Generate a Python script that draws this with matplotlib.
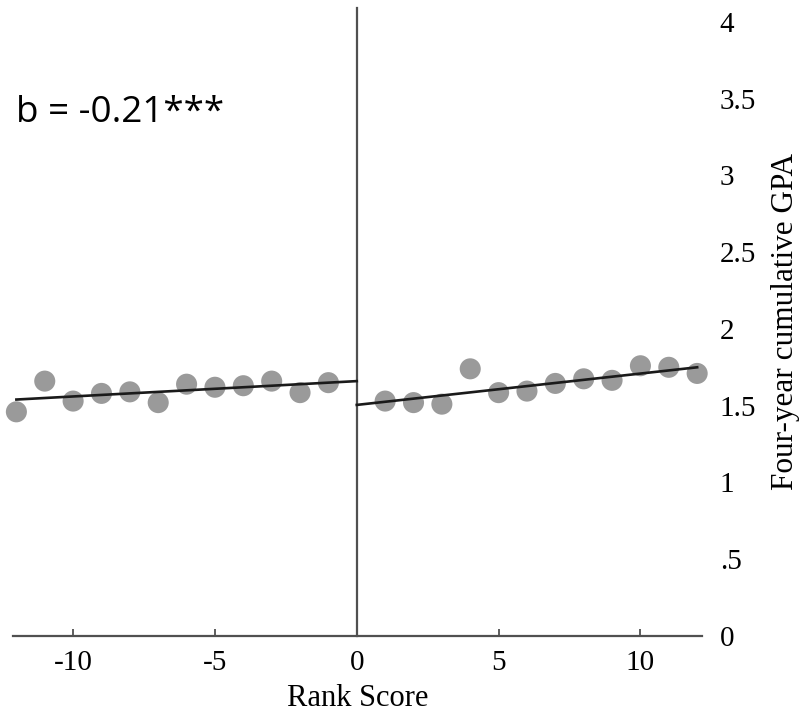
import matplotlib
matplotlib.use('Agg')
import matplotlib.pyplot as plt

# binned means of GPA by rank score, either side of the cutoff
rank_left = [-12, -11, -10, -9, -8, -7, -6, -5, -4, -3, -2, -1]
gpa_left = [1.46, 1.66, 1.53, 1.58, 1.59, 1.52, 1.64, 1.62, 1.63, 1.66, 1.585, 1.65]
rank_right = [1, 2, 3, 4, 5, 6, 7, 8, 9, 10, 11, 12]
gpa_right = [1.53, 1.52, 1.51, 1.74, 1.585, 1.595, 1.645, 1.675, 1.665, 1.76, 1.75, 1.71]

# fitted lines (endpoints)
fit_left_x = [-12, 0]
fit_left_y = [1.54, 1.66]
fit_right_x = [0, 12]
fit_right_y = [1.505, 1.75]

xticks = [-10, -5, 0, 5, 10]
yticks = [0, 0.5, 1, 1.5, 2, 2.5, 3, 3.5, 4]
yticklabels = ['0', '.5', '1', '1.5', '2', '2.5', '3', '3.5', '4']

serif = ['Liberation Serif', 'DejaVu Serif']

fig = plt.figure(figsize=(8.08, 7.14), dpi=100)
ax = fig.add_axes([12.7 / 808, 78 / 714, 689 / 808, 628 / 714])

ax.scatter(rank_left, gpa_left, s=230, color='#9a9a9a', edgecolors='none', zorder=2, clip_on=False)
ax.scatter(rank_right, gpa_right, s=230, color='#9a9a9a', edgecolors='none', zorder=2, clip_on=False)
ax.plot(fit_left_x, fit_left_y, color='#1a1a1a', lw=1.9, zorder=3)
ax.plot(fit_right_x, fit_right_y, color='#1a1a1a', lw=1.9, zorder=3)

ax.set_xlim(-12.13, 12.16)
ax.set_ylim(0, 4.09)

# y axis drawn as the cutoff line at rank 0, labels on the right
ax.spines['left'].set_position(('data', 0))
ax.spines['top'].set_visible(False)
ax.spines['right'].set_visible(False)
for s in ['left', 'bottom']:
    ax.spines[s].set_color('#505050')
    ax.spines[s].set_linewidth(1.6)

ax.set_xticks(xticks)
ax.set_xticklabels([str(t) for t in xticks], family=serif, fontsize=21)
ax.tick_params(axis='x', direction='in', length=5, width=1.3, color='#505050', pad=10)

ax.yaxis.tick_right()
ax.set_yticks(yticks)
ax.set_yticklabels(yticklabels, family=serif, fontsize=21)
ax.tick_params(axis='y', length=0, pad=13)
for lab in ax.get_yticklabels():
    lab.set_horizontalalignment('left')

ax.set_xlabel('Rank Score', family=serif, fontsize=22, labelpad=6)
ax.yaxis.set_label_position('right')
ax.set_ylabel('Four-year cumulative GPA', family=serif, fontsize=22.5)
ax.yaxis.set_label_coords(1.1, 0.5)

ax.text(-12.0, 3.35, 'b = -0.21***', family=['Open Sans', 'DejaVu Sans'], fontsize=26.5,
        va='baseline', ha='left')

fig.savefig('out.png', dpi=100)
